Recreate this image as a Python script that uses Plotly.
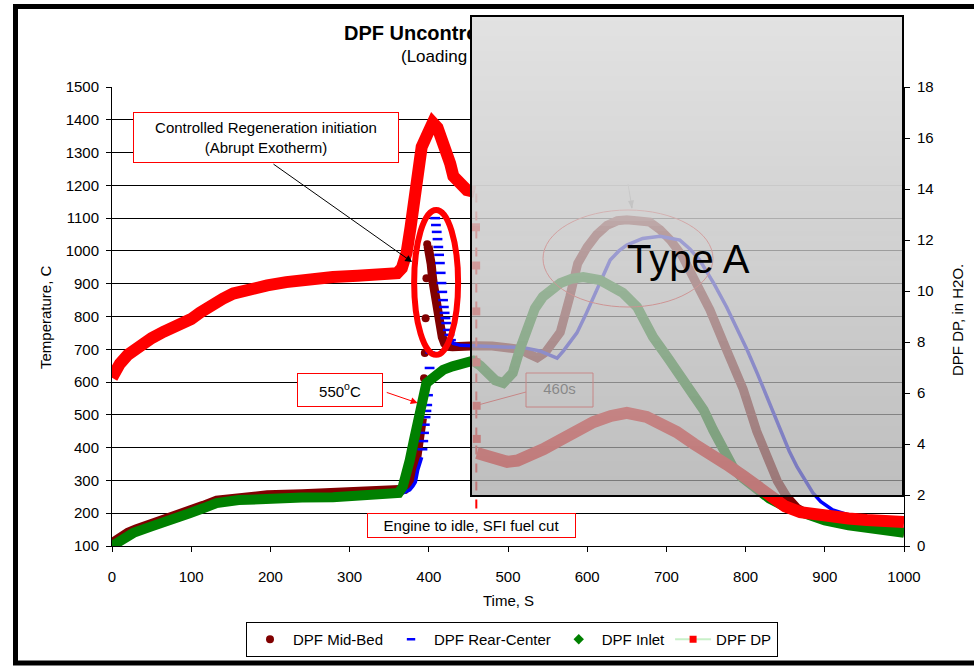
import plotly.graph_objects as go

# ---------------- measured series ----------------
# DPF Mid-Bed thermocouple (deg C): steady loading, exotherm jump, decay/idle
midbed_rise_t = [0, 10, 20, 30, 50, 75, 98, 115, 132, 150, 175, 196, 240, 279, 320, 355, 370, 375, 380, 385, 388, 391, 392]
midbed_rise_T = [110, 128, 142, 152, 168, 186, 210, 224, 240, 246, 252, 256, 259, 262, 265, 268, 273, 285, 315, 372, 415, 454, 490]
midbed_jump_t = [393, 394, 395, 396, 397, 398]
midbed_jump_T = [554, 612, 689, 795, 917, 1020]
midbed_decay_t = [399, 401, 403, 405, 408, 411, 414, 417, 420, 424, 430, 440, 460, 480, 500, 515, 527, 537,
                  547, 556, 566, 578, 588, 600, 612, 625, 638, 650, 665, 679, 692, 705, 720, 735, 755, 776,
                  797, 814, 827, 840, 852, 865, 880, 900, 930, 960, 1000]
midbed_decay_T = [1015, 997, 960, 911, 855, 805, 768, 737, 718, 709, 708, 711, 711, 710, 708, 700, 685, 674,
                  690, 718, 752, 860, 962, 1012, 1050, 1078, 1092, 1095, 1094, 1088, 1065, 1033, 985, 918, 820, 698,
                  578, 450, 370, 298, 250, 215, 195, 180, 165, 153, 142]

# DPF Rear-Center thermocouple (deg C)
rear_pre_t = [0, 10, 27, 50, 75, 98, 132, 160, 196, 240, 279, 320, 355, 365, 371, 376, 380, 383, 386, 389, 391]
rear_pre_T = [104, 120, 142, 161, 180, 201, 228, 238, 246, 249, 251, 253, 256, 259, 264, 271, 283, 295, 332, 355, 371]
rear_spike_t = [392, 393, 394, 395, 396, 397, 398, 399, 400, 401, 402, 408, 409, 410, 411, 412, 413, 414, 415,
                416, 417, 418, 419, 420, 421, 422, 424, 426, 428]
rear_spike_T = [395, 420, 445, 470, 493, 512, 530, 560, 600, 643, 690, 1100, 1079, 1058, 1036, 1012, 988, 963, 933,
                902, 875, 850, 829, 811, 795, 780, 759, 744, 728]
rear_post_t = [428, 431, 440, 460, 480, 500, 520, 540, 552, 562, 570, 587, 598, 608, 618, 629, 640, 650, 670, 692,
               717, 730, 742, 760, 776, 790, 802, 815, 827, 843, 855, 865, 875, 885, 895, 910, 930, 953, 975, 1000]
rear_post_T = [728, 718, 712, 710, 708, 707, 705, 695, 682, 673, 695, 750, 805, 860, 918, 972, 1000, 1018, 1038, 1045,
               1033, 1005, 972, 900, 829, 760, 698, 625, 554, 454, 390, 341, 300, 262, 235, 210, 195, 185, 178, 173]

# DPF Inlet thermocouple (deg C)
inlet_t = [0, 10, 27, 50, 75, 98, 115, 132, 160, 196, 240, 279, 320, 355, 362, 367, 371, 376, 381, 385, 388, 391,
           394, 397, 402, 406, 412, 418, 430, 448, 456, 465, 473, 484, 494, 500, 506, 515, 524, 534, 544, 555, 566,
           580, 595, 616, 630, 645, 663, 683, 701, 718, 734, 747, 759, 772, 784, 795, 810, 830, 850, 875, 900, 930,
           960, 1000]
inlet_T = [100, 118, 140, 160, 178, 200, 215, 231, 240, 246, 248, 249, 252, 255, 262, 280, 310, 362, 420, 463, 505, 545,
           575, 597, 607, 615, 627, 637, 648, 658, 665, 650, 628, 605, 597, 608, 628, 700, 768, 825, 860, 885, 902,
           915, 920, 911, 895, 872, 829, 738, 677, 620, 567, 515, 454, 395, 341, 310, 280, 245, 220, 195, 178, 163,
           152, 140]

# DPF differential pressure (in H2O): loading, fuel-cut drop, idle
dp_load_t = [0, 5, 10, 20, 30, 40, 50, 65, 80, 100, 111, 125, 140, 153, 170, 196, 220, 237, 260, 279, 310, 342, 360,
             366, 372, 377, 381, 385, 391, 399, 405, 411, 418, 427, 431, 439, 448, 458]
dp_load_v = [6.6, 6.9, 7.15, 7.5, 7.75, 8.0, 8.15, 8.4, 8.6, 8.9, 9.15, 9.45, 9.7, 9.9, 10.05, 10.22, 10.35, 10.43,
             10.5, 10.55, 10.6, 10.67, 10.7, 10.9, 11.5, 12.5, 13.3, 14.35, 15.65, 16.2, 16.6, 16.4, 15.9, 15.0, 14.5,
             14.2, 13.96, 13.88]
dp_cut_t = [459.6, 459.8, 460.0, 460.2, 460.4, 460.6]
dp_cut_v = [12.5, 11.0, 9.2, 7.2, 5.5, 4.2]
dp_idle_t = [460.8, 473, 486, 499, 512, 524, 545, 566, 587, 608, 630, 650, 675, 695, 713, 735, 755, 776, 797, 815,
             830, 850, 869, 890, 910, 930, 953, 975, 1000]
dp_idle_v = [3.65, 3.5, 3.35, 3.3, 3.35, 3.49, 3.8, 4.16, 4.55, 4.86, 5.1, 5.22, 5.06, 4.8, 4.47, 4.0, 3.65, 3.2,
             2.75, 2.3, 1.9, 1.55, 1.33, 1.22, 1.14, 1.08, 1.02, 0.98, 0.94]

x_ticks = list(range(0, 1001, 100))
temp_ticks = list(range(100, 1501, 100))
dp_ticks = list(range(0, 19, 2))

FUEL_CUT_T = 460          # engine to idle / SFI fuel cut, s

# ---------------- styling ----------------
W, H = 974, 667
PL, PR, PT, PB = 112, 904, 87, 546        # plot-area edges, px
FONT = "Liberation Sans, Arial, sans-serif"
MIDBED, REAR, INLET, DP = "#800000", "#0000ff", "#008000", "#ff0000"

fig = go.Figure()

def line(x, y, color, width, yaxis="y"):
    fig.add_trace(go.Scatter(x=x, y=y, mode="lines", yaxis=yaxis, showlegend=False, hoverinfo="skip",
                             line=dict(color=color, width=width)))

# Mid-bed
line(midbed_rise_t, midbed_rise_T, MIDBED, 9)
fig.add_trace(go.Scatter(x=midbed_jump_t, y=midbed_jump_T, mode="markers", showlegend=False, hoverinfo="skip",
                         marker=dict(color=MIDBED, size=8, symbol="circle")))
line(midbed_decay_t, midbed_decay_T, MIDBED, 9)

# Rear-center
line(rear_pre_t, rear_pre_T, REAR, 3.5)
fig.add_trace(go.Scatter(x=rear_spike_t, y=rear_spike_T, mode="markers", showlegend=False, hoverinfo="skip",
                         marker=dict(symbol="line-ew", size=7, line=dict(color=REAR, width=2.5))))
line(rear_post_t, rear_post_T, REAR, 3.5)

# Inlet
line(inlet_t, inlet_T, INLET, 10)

# Differential pressure on the right axis
line(dp_load_t, dp_load_v, DP, 12, yaxis="y2")
fig.add_trace(go.Scatter(x=dp_cut_t, y=dp_cut_v, mode="markers", yaxis="y2", showlegend=False, hoverinfo="skip",
                         marker=dict(color=DP, size=8, symbol="square")))
line(dp_idle_t, dp_idle_v, DP, 12, yaxis="y2")

# Legend entries
fig.add_trace(go.Scatter(x=[None], y=[None], mode="markers", name="DPF Mid-Bed",
                         marker=dict(color=MIDBED, size=8, symbol="circle")))
fig.add_trace(go.Scatter(x=[None], y=[None], mode="markers", name="DPF Rear-Center",
                         marker=dict(symbol="line-ew", size=6, line=dict(color=REAR, width=2.5))))
fig.add_trace(go.Scatter(x=[None], y=[None], mode="markers", name="DPF Inlet",
                         marker=dict(color=INLET, size=8, symbol="diamond")))
fig.add_trace(go.Scatter(x=[None], y=[None], mode="lines+markers", name="DPF DP",
                         line=dict(color="#c8f0c8", width=2), marker=dict(color=DP, size=7, symbol="square")))

# Text that sits beneath the grey panel (pixel subplot)
def px_text(x, y, txt, size, color="black", pos="middle right"):
    fig.add_trace(go.Scatter(x=[x], y=[y], mode="text", text=[txt], textposition=pos, xaxis="x3", yaxis="y3",
                             textfont=dict(size=size, color=color, family=FONT), showlegend=False,
                             hoverinfo="skip", cliponaxis=False))

px_text(344, 35, "<b>DPF Uncontrolled Regeneration</b>", 20)
px_text(401, 58, "(Loading 8 g/L)", 17)
px_text(559.5, 390, "460s", 15, color="black", pos="middle center")

shapes = []
# spike ellipse
shapes.append(dict(type="circle", xref="x", yref="y", x0=381.5, x1=437, y0=683, y1=1125,
                   line=dict(color=DP, width=6), layer="above"))
# fuel-cut marker line
shapes.append(dict(type="line", xref="x", yref="y", x0=FUEL_CUT_T, x1=FUEL_CUT_T, y0=1175, y1=201,
                   line=dict(color=DP, width=2, dash="dash"), layer="above"))
# 460s callout
shapes.append(dict(type="rect", xref="x3", yref="y3", x0=526, x1=593, y0=373, y1=407,
                   line=dict(color=DP, width=1), layer="above"))
shapes.append(dict(type="line", xref="x3", yref="y3", x0=526, x1=478, y0=392, y1=405,
                   line=dict(color=DP, width=1), layer="above"))
# peak ellipse and pointer
shapes.append(dict(type="circle", xref="x3", yref="y3", x0=543, x1=713, y0=210, y1=307,
                   line=dict(color=DP, width=1), layer="above"))
shapes.append(dict(type="line", xref="x3", yref="y3", x0=628, x1=632, y0=184, y1=208,
                   line=dict(color="#555555", width=1), layer="above"))
shapes.append(dict(type="path", xref="x3", yref="y3", path="M 628,201 L 632,209 L 634,200 Z",
                   fillcolor="#555555", line=dict(width=0), layer="above"))

# grey gradient panel: opacity profile (y px, alpha) and brightness over white
OV_X0, OV_X1, OV_Y0, OV_Y1 = 471, 903, 16, 496
alpha_profile = [(16, 1.0), (165, 1.0), (205, 0.9), (232, 0.8), (496, 0.72)]

def alpha_at(y):
    for (y0, a0), (y1, a1) in zip(alpha_profile, alpha_profile[1:]):
        if y0 <= y <= y1:
            return a0 + (a1 - a0) * (y - y0) / (y1 - y0)
    return alpha_profile[-1][1]

strip = 5
y = OV_Y0
while y < OV_Y1:
    ym = y + strip / 2
    f = (ym - OV_Y0) / (OV_Y1 - OV_Y0)
    a = alpha_at(ym)
    w = 226 - 36 * f
    c = (w - 255 * (1 - a)) / a
    shapes.append(dict(type="rect", xref="x3", yref="y3", x0=OV_X0, x1=OV_X1, y0=y, y1=min(y + strip, OV_Y1),
                       fillcolor=f"rgba({c:.0f},{c:.0f},{c:.0f},{a:.3f})", line=dict(width=0), layer="above"))
    y += strip
shapes.append(dict(type="rect", xref="x3", yref="y3", x0=OV_X0, x1=OV_X1, y0=OV_Y0, y1=OV_Y1,
                   line=dict(color="black", width=2), layer="above"))
# outer frame
shapes.append(dict(type="rect", xref="x3", yref="y3", x0=15.5, x1=1000, y0=6.5, y1=663,
                   line=dict(color="black", width=5), layer="above"))

annotations = []

def box(x, y, w, h, txt):
    annotations.append(dict(xref="x3", yref="y3", x=x, y=y, text=txt, showarrow=False, width=w - 2, height=h - 2,
                            bgcolor="white", bordercolor=DP, borderwidth=1, borderpad=0,
                            font=dict(size=15, color="black"), align="center", valign="middle"))

def arrow(x, y, ax, ay, color):
    annotations.append(dict(xref="x", yref="y", axref="x", ayref="y", x=x, y=y, ax=ax, ay=ay, text="",
                            showarrow=True, arrowhead=2, arrowsize=1.4, arrowwidth=1, arrowcolor=color,
                            standoff=0, startstandoff=0))

box(266, 137.5, 266, 51, "Controlled Regeneration initiation<br>(Abrupt Exotherm)")
arrow(379, 966, 202, 1268, "black")
box(340, 390, 86, 34, "550<sup>o</sup>C")
arrow(386, 536, 345, 570, DP)
box(471.5, 525.5, 209, 25, "Engine to idle, SFI fuel cut")

annotations.append(dict(xref="x3", yref="y3", x=688, y=259, text="Type A", showarrow=False,
                        font=dict(size=40, color="black")))
annotations.append(dict(xref="x3", yref="y3", x=45, y=317, text="Temperature, C", showarrow=False,
                        textangle=-90, font=dict(size=15)))
annotations.append(dict(xref="x3", yref="y3", x=957, y=320, text="DPF DP, in H2O.", showarrow=False,
                        textangle=-90, font=dict(size=15)))
annotations.append(dict(xref="x3", yref="y3", x=508, y=600, text="Time, S", showarrow=False, font=dict(size=15)))

axis_common = dict(ticks="outside", ticklen=5, tickcolor="black", showline=True, linecolor="black", linewidth=1,
                   zeroline=False, tickfont=dict(size=15), fixedrange=True, automargin=False)

fig.update_layout(
    width=W, height=H, margin=dict(l=0, r=0, t=0, b=0, pad=0, autoexpand=False),
    paper_bgcolor="white", plot_bgcolor="rgba(0,0,0,0)",
    font=dict(family=FONT, size=15, color="black"),
    xaxis=dict(domain=[PL / W, PR / W], range=[0, 1000], tickvals=x_ticks, showgrid=False, anchor="y",
               ticklabelstandoff=12, **axis_common),
    yaxis=dict(domain=[1 - PB / H, 1 - PT / H], range=[100, 1500], tickvals=temp_ticks, showgrid=True,
               gridcolor="black", gridwidth=1, anchor="x", ticklabelstandoff=4, **axis_common),
    yaxis2=dict(overlaying="y", side="right", range=[0, 18], tickvals=dp_ticks, showgrid=False, anchor="x",
                ticklabelstandoff=4, **axis_common),
    xaxis3=dict(domain=[0, 1], range=[0, W], visible=False, anchor="y3", fixedrange=True, automargin=False),
    yaxis3=dict(domain=[0, 1], range=[H, 0], visible=False, anchor="x3", fixedrange=True, automargin=False),
    legend=dict(orientation="h", x=512 / W, y=1 - 622 / H, xanchor="center", yanchor="top",
                bordercolor="black", borderwidth=1, bgcolor="white", font=dict(size=15), itemwidth=36),
    shapes=shapes, annotations=annotations, showlegend=True,
)

fig.write_html("out.html")
